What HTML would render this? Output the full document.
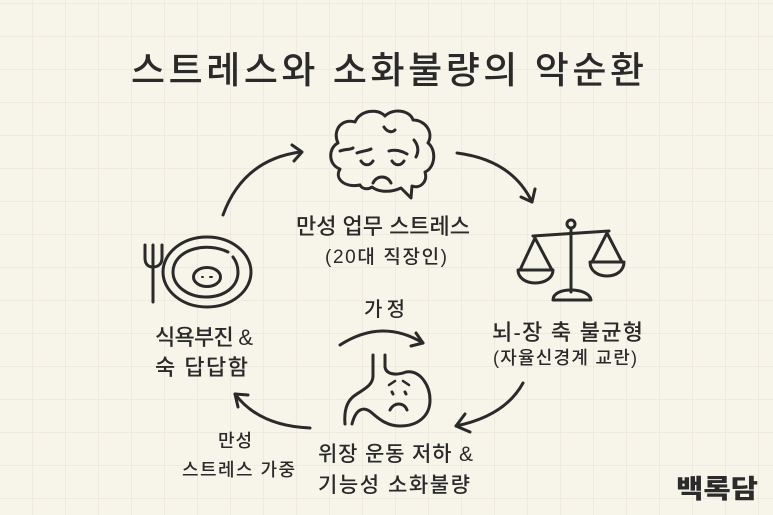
<!DOCTYPE html>
<html><head><meta charset="utf-8"><style>
html,body{margin:0;padding:0;}
body{width:773px;height:515px;overflow:hidden;background:#f7f4ea;}
svg{display:block;}
text{font-family:"Liberation Sans","Noto Sans CJK KR","NanumGothic",sans-serif;fill:#2a2a2a;font-weight:500;}
</style></head><body>
<svg width="773" height="515" viewBox="0 0 773 515" xmlns="http://www.w3.org/2000/svg">
<defs>
<pattern id="g" x="-1" y="3" width="33" height="33" patternUnits="userSpaceOnUse">
<path d="M0,0.5 H33 M0.5,0 V33" stroke="#eeeadf" stroke-width="1" fill="none"/>
</pattern>
</defs>
<rect width="773" height="515" fill="#f7f4ea"/>
<rect width="773" height="515" fill="url(#g)"/>

<!-- Title -->
<text x="131" y="83" font-size="37" textLength="513" lengthAdjust="spacing">스트레스와 소화불량의 악순환</text>

<g fill="none" stroke="#2a2a2a" stroke-width="3" stroke-linecap="round" stroke-linejoin="round">
<!-- Brain -->
<path d="M360,185 C345,188 334,179 340,169 C328,165 328,148 338,143 C332,130 342,118 355,122 C360,110 378,108 385,116 C393,108 410,110 413,120 C425,120 434,132 428,143 C437,150 435,168 425,172 C428,182 420,189 412,186 L411,198 L401,188 C390,193 378,192 372,187 C368,190 362,189 360,185"/>
<path d="M384,127 C387,132 392,133 395,130"/>
<path d="M340,151 C345,149 350,150 353,148"/>
<path d="M357,153 C362,151 367,151 371,149"/>
<path d="M389,151 C395,149 402,151 407,154"/>
<path d="M361,161 C364,166 370,166 373,161"/>
<path d="M392,161 C395,166 401,166 404,161"/>
<path d="M373,183 C377,175 387,175 391,183"/>
<path d="M414,140 C418,145 419,151 416,157"/>

<!-- Scale -->
<circle cx="571" cy="224" r="4"/>
<path d="M533,236 L609,231"/>
<path d="M571,228 L571,292"/>
<path d="M553,300 C553,293 562,290 571,290 C580,290 590,293 591,300 Z"/>
<path d="M535,238 L520,270 M535,238 L552,270"/>
<path d="M518,270 L553,270 C553,278 545,283 535,283 C526,283 518,278 518,270 Z"/>
<path d="M607,233 L592,262 M607,233 L622,262"/>
<path d="M590,262 L624,262 C624,271 616,276 607,276 C598,276 590,271 590,262 Z"/>

<!-- Plate and fork -->
<path d="M145,245 L145,258 C145,265 149,267 153,267 C157,267 162,265 162,258 L162,245"/>
<path d="M153,245 L153,302"/>
<ellipse cx="207" cy="272" rx="44" ry="35"/>
<path d="M228,252 C218,247 205,246 194,249 C180,253 173,262 173,272 C173,286 188,297 206,297 C224,297 238,287 238,272 C238,266 236,261 233,257"/>
<ellipse cx="207" cy="277" rx="13.5" ry="9.5"/>
<path d="M202,277 L203,277 M210,277 L212,277" stroke-width="2"/>

<!-- Stomach -->
<path d="M373,355 L373,376 C373,386 362,390 354,396 C346,402 344,412 345,424"/>
<path d="M385,355 L385,367 C386,374 395,376 406,372 C420,370 430,385 430,400 C430,416 418,426 400,426 C388,426 380,420 372,413 C364,406 356,408 352,424"/>
<path d="M389,385 L395,381 M403,381 L409,385" stroke-width="2.5"/>
<path d="M392,392 L393,394 M405,392 L406,394" stroke-width="3"/>
<path d="M390,410 C394,402 404,402 407,410"/>

<!-- Arrows -->
<path d="M223,215 Q243,160 300,152"/>
<path d="M292,145 L302,152 L294,161"/>
<path d="M457,153 Q512,160 532,202"/>
<path d="M521,197 L532,202 L535,189"/>
<path d="M523,383 Q505,416 456,426"/>
<path d="M465,414 L456,426 L470,432"/>
<path d="M310,428 Q259,426 235,394"/>
<path d="M248,395 L235,394 L238,407"/>
<path d="M340,345 Q382,318 423,343"/>
<path d="M416,333 L423,343 L411,346"/>
</g>

<!-- Labels -->
<text x="296" y="234" font-size="22" textLength="174" lengthAdjust="spacing">만성 업무 스트레스</text>
<text x="325" y="263" font-size="19" textLength="122" lengthAdjust="spacing">(20대 직장인)</text>
<text x="492" y="340" font-size="22" textLength="151" lengthAdjust="spacing">뇌-장 축 불균형</text>
<text x="493" y="364" font-size="18" textLength="144" lengthAdjust="spacing">(자율신경계 교란)</text>
<text x="155" y="345" font-size="22" textLength="98" lengthAdjust="spacing">식욕부진 &amp;</text>
<text x="155" y="375" font-size="22" textLength="93" lengthAdjust="spacing">숙 답답함</text>
<text x="218" y="447" font-size="18" textLength="34" lengthAdjust="spacing">만성</text>
<text x="182" y="476" font-size="18" textLength="113" lengthAdjust="spacing">스트레스 가중</text>
<text x="364" y="316" font-size="20" textLength="41" lengthAdjust="spacing">가정</text>
<text x="318" y="461" font-size="21" textLength="155" lengthAdjust="spacing">위장 운동 저하 &amp;</text>
<text x="318" y="492" font-size="21" textLength="152" lengthAdjust="spacing">기능성 소화불량</text>

<!-- Logo -->
<text x="676" y="498" font-size="26" font-weight="bold" textLength="82" lengthAdjust="spacingAndGlyphs" style="fill:#2b2b2b;font-weight:900">백록담</text>
</svg>
</body></html>
